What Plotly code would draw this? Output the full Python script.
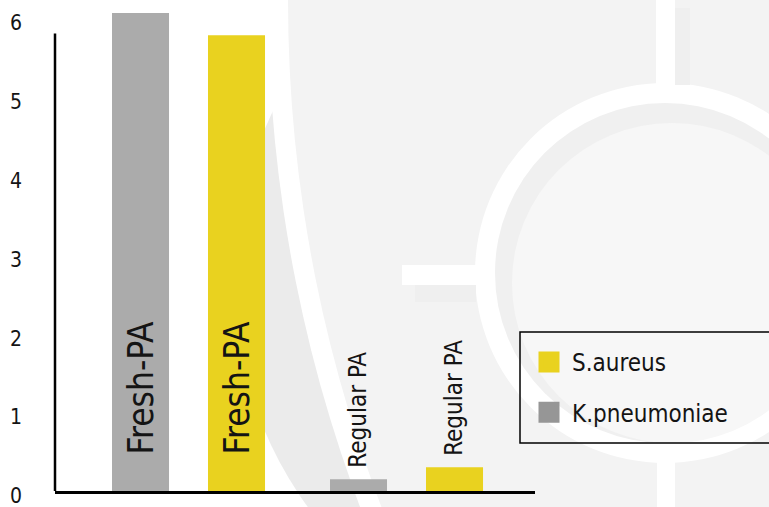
import plotly.graph_objects as go

# ---------------- data ----------------
groups = ["Fresh-PA", "Regular PA"]
series_names = ["K.pneumoniae", "S.aureus"]
k_values = [6.06, 0.15]
s_values = [5.78, 0.30]
y_ticks = [0, 1, 2, 3, 4, 5, 6]
legend_order = ["S.aureus", "K.pneumoniae"]

# ---------------- style ----------------
FONT = "DejaVu Sans Condensed, Liberation Sans Narrow, Roboto, sans-serif"
bar_colors = {"K.pneumoniae": "#ababab", "S.aureus": "#e9d21f"}
legend_colors = {"K.pneumoniae": "#969696", "S.aureus": "#e9d21f"}
TXT = "#141414"
W, H = 769, 507
ML, MR, MT, MB = 55, 234, 2, 16
BARGAP = 0.1193
BARGROUPGAP = 0.406
YMAX = 6.2
XR = [-0.6124, 1.5894]

plot_w = W - ML - MR
plot_h = H - MT - MB


def px(x):
    return (x - ML) / plot_w


def py(y):
    return (H - MB - y) / plot_h


fig = go.Figure()
series_values = {"K.pneumoniae": k_values, "S.aureus": s_values}
xpos = list(range(len(groups)))
for name in series_names:
    fig.add_trace(go.Bar(
        x=xpos, y=series_values[name], name=name,
        marker=dict(color=bar_colors[name], line=dict(width=0)),
        showlegend=False, hoverinfo="x+y+name",
    ))

# legend entries (larger square swatches)
for name in legend_order:
    fig.add_trace(go.Scatter(
        x=[None], y=[None], mode="markers", name=name, legendgroup=name,
        marker=dict(symbol="square", size=16, color=legend_colors[name],
                    line=dict(color=legend_colors[name], width=5)),
    ))

# in-bar / above-bar labels
off = (1 - BARGAP) / 4
annotations = []
for si, name in enumerate(series_names):
    for gi, g in enumerate(groups):
        v = series_values[name][gi]
        xa = gi + (si - 0.5) * 2 * off
        if v > 1:
            annotations.append(dict(
                x=xa, y=0, xref="x", yref="y", text=g, showarrow=False,
                textangle=-90, xanchor="center", yanchor="bottom", yshift=34,
                font=dict(family=FONT, size=35, color=TXT)))
        else:
            annotations.append(dict(
                x=xa, y=v, xref="x", yref="y", text=g, showarrow=False,
                textangle=-90, xanchor="center", yanchor="bottom", yshift=9,
                font=dict(family=FONT, size=24, color=TXT)))

# ---------------- background decoration ----------------
shapes = []


def circ(cx, cy, r, color):
    shapes.append(dict(type="circle", xref="paper", yref="paper",
                       x0=px(cx - r), x1=px(cx + r), y0=py(cy + r), y1=py(cy - r),
                       fillcolor=color, line=dict(width=0), layer="below"))


def rect(x0, y0, x1, y1, color):
    shapes.append(dict(type="rect", xref="paper", yref="paper",
                       x0=px(x0), x1=px(x1), y0=py(y1), y1=py(y0),
                       fillcolor=color, line=dict(width=0), layer="below"))


circ(620, 280, 386, "#ebebeb")
circ(1710, 0, 1442, "#ffffff")
circ(1710, 0, 1422, "#f3f3f3")
circ(665, 273, 190, "#ffffff")
circ(665, 273, 170, "#f0f0f0")
circ(672, 283, 160, "#f7f7f7")
rect(675, 8, 690, 85, "#efefef")
rect(415, 285, 476, 302, "#efefef")
rect(656, 0, 675, 85, "#ffffff")
rect(402, 265, 476, 285, "#ffffff")
rect(657, 462, 675, 507, "#ffffff")

# y-axis line (stops below the top of the tallest bar)
shapes.append(dict(type="line", xref="paper", yref="y", x0=0, x1=0,
                   y0=0, y1=5.8, line=dict(color="black", width=2.5), layer="above"))
# legend frame
shapes.append(dict(type="rect", xref="paper", yref="paper",
                   x0=px(520), x1=px(790), y0=py(443), y1=py(332),
                   line=dict(color="black", width=1.5), fillcolor="rgba(0,0,0,0)",
                   layer="above"))

fig.update_layout(
    width=W, height=H,
    margin=dict(l=ML, r=MR, t=MT, b=MB, pad=0, autoexpand=False),
    paper_bgcolor="white", plot_bgcolor="rgba(0,0,0,0)",
    barmode="group", bargap=BARGAP, bargroupgap=BARGROUPGAP,
    font=dict(family=FONT, color=TXT),
    showlegend=True,
    legend=dict(x=px(526), y=py(340), xanchor="left", yanchor="top",
                bgcolor="rgba(0,0,0,0)", borderwidth=0,
                font=dict(family=FONT, size=24, color=TXT),
                tracegroupgap=16, itemwidth=36),
    xaxis=dict(range=XR, showgrid=False, zeroline=False, showticklabels=False,
               ticks="", showline=True, linecolor="black", linewidth=2.5,
               fixedrange=True, automargin=False),
    yaxis=dict(range=[0, YMAX], showgrid=False, zeroline=False, showline=False,
               tickmode="array", tickvals=y_ticks, ticktext=[str(t) for t in y_ticks],
               ticks="", ticklabelstandoff=32, ticklabelshift=5,
               ticklabeloverflow="allow", automargin=False,
               tickfont=dict(family=FONT, size=21, color=TXT), fixedrange=True),
    annotations=annotations,
    shapes=shapes,
)

fig.write_html("out.html", config={"displayModeBar": False},
               post_script="document.body.style.margin='0';document.body.style.overflow='hidden';")
